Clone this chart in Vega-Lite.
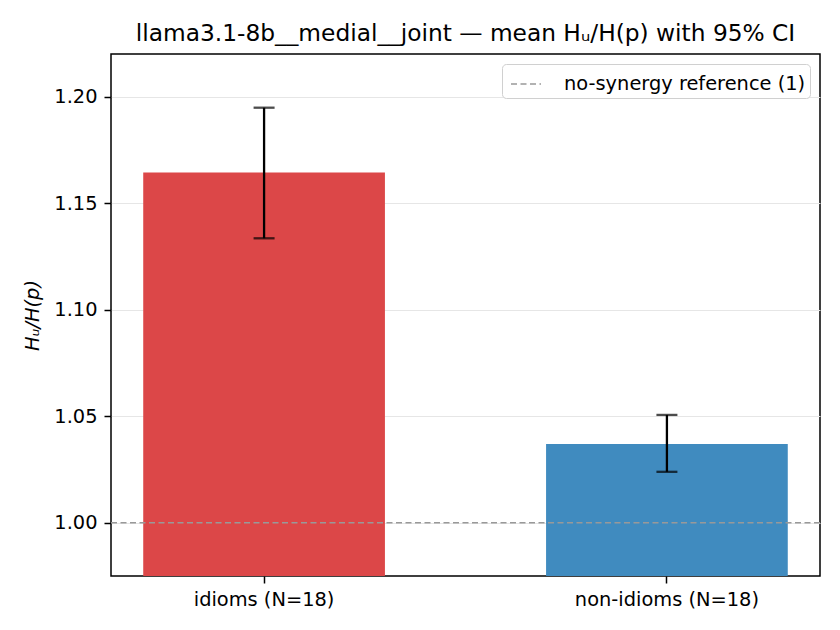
{
  "$schema": "https://vega.github.io/schema/vega-lite/v6.json",
  "autosize": "none",
  "width": 709,
  "height": 522,
  "padding": {"left": 111, "top": 54, "right": 20, "bottom": 54},
  "background": "white",
  "config": {
    "font": "DejaVu Sans",
    "view": {"stroke": "black", "strokeWidth": 1.5},
    "axis": {"labelFont": "DejaVu Sans", "titleFont": "DejaVu Sans", "labelColor": "black", "tickColor": "black", "labelFontSize": 19.4, "titleFontSize": 19.4, "titleFontWeight": "normal", "titleColor": "black", "domain": false, "tickSize": 7, "tickWidth": 1.5, "labelLimit": 400}
  },
  "title": {"text": "llama3.1-8b__medial__joint — mean Hᵤ/H(p) with 95% CI", "fontSize": 23.3, "fontWeight": "normal", "font": "DejaVu Sans", "color": "black", "anchor": "middle", "offset": 8},
  "datasets": {
    "bars": [
      {"group": "idioms (N=18)", "mean": 1.1644, "lo": 1.1335, "hi": 1.1948},
      {"group": "non-idioms (N=18)", "mean": 1.037, "lo": 1.0239, "hi": 1.0506}
    ],
    "ref": [{"ref": "no-synergy reference (1)", "v": 1.0}]
  },
  "layer": [
    {
      "data": {"name": "bars"},
      "mark": {"type": "bar", "clip": true},
      "encoding": {
        "x": {"field": "group", "type": "nominal", "sort": null, "scale": {"paddingInner": 0.4, "paddingOuter": 0.08}, "axis": {"title": null, "labelAngle": 0, "labelPadding": 7, "grid": false}},
        "y": {"field": "mean", "type": "quantitative", "scale": {"domain": [0.975, 1.22], "zero": false, "nice": false}, "axis": {"title": "Hᵤ/H(p)", "titleFontStyle": "italic", "values": [1.0, 1.05, 1.1, 1.15, 1.2], "format": ".2f", "grid": true, "gridColor": "#e6e6e6", "gridWidth": 1.1, "labelPadding": 7, "titlePadding": 11}},
        "color": {"field": "group", "type": "nominal", "scale": {"range": ["#dc4748", "#408bbf"]}, "legend": null}
      }
    },
    {
      "data": {"name": "ref"},
      "mark": {"type": "rule", "strokeWidth": 1.5},
      "encoding": {
        "y": {"field": "v", "type": "quantitative"},
        "stroke": {"field": "ref", "type": "nominal", "scale": {"range": ["#999999"]}, "legend": {"title": null, "orient": "top-right", "offset": 10, "fillColor": "white", "strokeColor": "#d0d0d0", "cornerRadius": 4, "padding": 4, "labelFontSize": 19.4, "labelFont": "DejaVu Sans", "labelColor": "black", "labelLimit": 400, "symbolType": "stroke", "symbolSize": 900, "symbolOffset": 4, "symbolStrokeWidth": 1.5, "symbolDash": [6, 3.5], "labelOffset": 22}},
        "strokeDash": {"field": "ref", "type": "nominal", "scale": {"range": [[6, 3.5]]}, "legend": null}
      }
    },
    {
      "data": {"name": "bars"},
      "mark": {"type": "rule", "color": "black", "strokeWidth": 2.3},
      "encoding": {
        "x": {"field": "group", "type": "nominal", "sort": null},
        "y": {"field": "lo", "type": "quantitative"},
        "y2": {"field": "hi"}
      }
    },
    {
      "data": {"name": "bars"},
      "mark": {"type": "tick", "color": "black", "size": 21, "thickness": 2.3, "orient": "horizontal"},
      "encoding": {
        "x": {"field": "group", "type": "nominal", "sort": null},
        "y": {"field": "lo", "type": "quantitative"}
      }
    },
    {
      "data": {"name": "bars"},
      "mark": {"type": "tick", "color": "black", "size": 21, "thickness": 2.3, "orient": "horizontal"},
      "encoding": {
        "x": {"field": "group", "type": "nominal", "sort": null},
        "y": {"field": "hi", "type": "quantitative"}
      }
    }
  ]
}
